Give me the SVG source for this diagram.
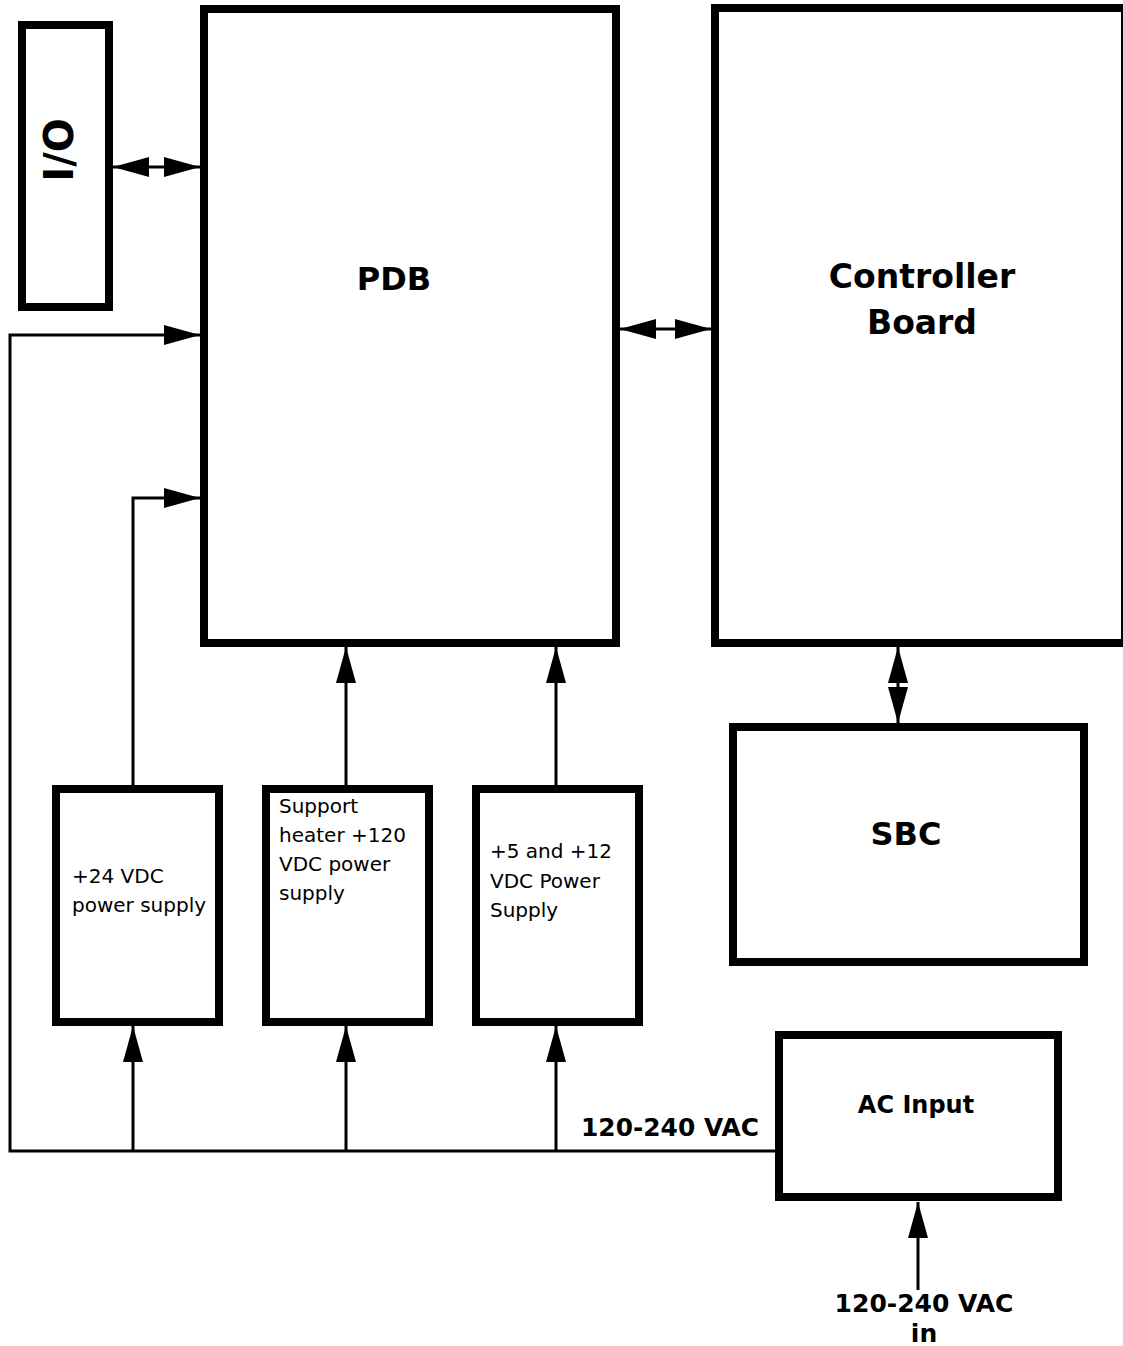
<svg xmlns="http://www.w3.org/2000/svg" width="1123" height="1346" viewBox="0 0 1123 1346">
<style>
.box{fill:#fff;stroke:#000;stroke-width:8}
.wire{fill:none;stroke:#000;stroke-width:3}
.b{font-family:"DejaVu Sans",sans-serif;font-weight:bold;fill:#000}
.n{font-family:"DejaVu Sans",sans-serif;font-size:20px;fill:#000}
</style>
<defs>
<marker id="ah" viewBox="0 0 36 20" refX="36" refY="10" markerWidth="36" markerHeight="20" markerUnits="userSpaceOnUse" orient="auto-start-reverse">
<path d="M0,0 L36,10 L0,20 z" fill="#000"/>
</marker>
</defs>
<rect width="1123" height="1346" fill="#fff"/>
<g id="connectors">
<path class="wire" d="M113,167 L200,167" marker-start="url(#ah)" marker-end="url(#ah)"/>
<path class="wire" d="M620,329 L711,329" marker-start="url(#ah)" marker-end="url(#ah)"/>
<path class="wire" d="M898,647 L898,723" marker-start="url(#ah)" marker-end="url(#ah)"/>
<path class="wire" d="M775,1151 L10,1151 L10,335 L200,335" marker-end="url(#ah)"/>
<path class="wire" d="M133,1151 L133,1026" marker-end="url(#ah)"/>
<path class="wire" d="M346,1151 L346,1026" marker-end="url(#ah)"/>
<path class="wire" d="M556,1151 L556,1026" marker-end="url(#ah)"/>
<path class="wire" d="M133,785 L133,498 L200,498" marker-end="url(#ah)"/>
<path class="wire" d="M346,785 L346,647" marker-end="url(#ah)"/>
<path class="wire" d="M556,785 L556,647" marker-end="url(#ah)"/>
<path class="wire" d="M918,1290 L918,1202" marker-end="url(#ah)"/>
</g>
<g id="io">
<rect class="box" x="22" y="25" width="87" height="282"/>
<text class="b" font-size="40" text-anchor="middle" transform="translate(73,150) rotate(-90)">I/O</text>
</g>
<g id="pdb">
<rect class="box" x="204" y="9" width="412" height="634"/>
<text class="b" font-size="32" x="394" y="290" text-anchor="middle">PDB</text>
</g>
<g id="controller">
<rect class="box" x="715" y="8" width="410" height="635"/>
<text class="b" font-size="33" x="922" y="288" text-anchor="middle">Controller</text>
<text class="b" font-size="33" x="922" y="334" text-anchor="middle">Board</text>
</g>
<g id="sbc">
<rect class="box" x="733" y="727" width="351" height="235"/>
<text class="b" font-size="32" x="906" y="845" text-anchor="middle">SBC</text>
</g>
<g id="ps24">
<rect class="box" x="56" y="789" width="163" height="233"/>
<text class="n" x="72" y="883">+24 VDC</text>
<text class="n" x="72" y="912">power supply</text>
</g>
<g id="ps120">
<rect class="box" x="266" y="789" width="163" height="233"/>
<text class="n" x="279" y="813">Support</text>
<text class="n" x="279" y="842">heater +120</text>
<text class="n" x="279" y="871">VDC power</text>
<text class="n" x="279" y="900">supply</text>
</g>
<g id="ps512">
<rect class="box" x="476" y="789" width="163" height="233"/>
<text class="n" x="490" y="858">+5 and +12</text>
<text class="n" x="490" y="888">VDC Power</text>
<text class="n" x="490" y="917">Supply</text>
</g>
<g id="acinput">
<rect class="box" x="779" y="1035" width="279" height="162"/>
<text class="b" font-size="24" x="916" y="1113" text-anchor="middle">AC Input</text>
</g>
<g id="labels">
<text class="b" font-size="25" x="581" y="1136" textLength="178" lengthAdjust="spacingAndGlyphs">120-240 VAC</text>
<text class="b" font-size="25" x="924" y="1312" text-anchor="middle">120-240 VAC</text>
<text class="b" font-size="25" x="924" y="1342" text-anchor="middle">in</text>
</g>
</svg>
